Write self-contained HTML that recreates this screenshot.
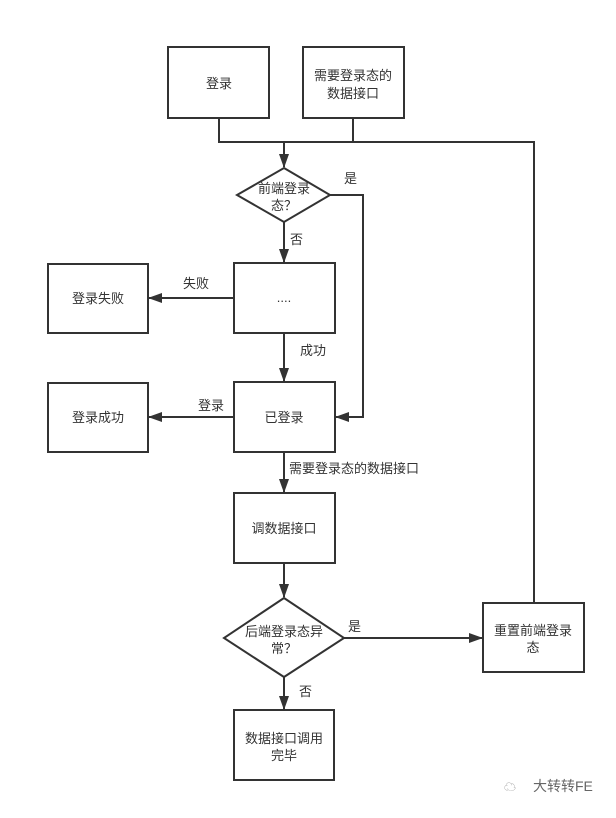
<!DOCTYPE html>
<html><head><meta charset="utf-8"><style>
body{margin:0;background:#fff}
svg text{font-family:"Liberation Sans","Noto Sans CJK SC",sans-serif;font-size:13px;fill:#333}
</style></head><body>
<svg width="616" height="813" viewBox="0 0 616 813" xmlns="http://www.w3.org/2000/svg">
<defs><marker id="a" markerWidth="14" markerHeight="12" refX="13" refY="6" orient="auto" markerUnits="userSpaceOnUse"><path d="M0,1 L14,6 L0,11 Z" fill="#333"/></marker></defs>
<g stroke="#333" stroke-width="2" fill="#fff">
<rect x="168" y="47" width="101" height="71"/>
<rect x="303" y="47" width="101" height="71"/>
<polygon points="284,168 330,195 284,222 237,195"/>
<rect x="234" y="263" width="101" height="70"/>
<rect x="48" y="264" width="100" height="69"/>
<rect x="234" y="382" width="101" height="70"/>
<rect x="48" y="383" width="100" height="69"/>
<rect x="234" y="493" width="101" height="70"/>
<polygon points="284,598 344,638 284,677 224,638"/>
<rect x="483" y="603" width="101" height="69"/>
<rect x="234" y="710" width="100" height="70"/>
</g>
<g stroke="#333" stroke-width="2" fill="none">
<polyline points="219,118 219,142 534,142 534,603"/>
<line x1="353" y1="118" x2="353" y2="142"/>
<line x1="284" y1="142" x2="284" y2="167" marker-end="url(#a)"/>
<polyline points="330,195 363,195 363,417 336,417" marker-end="url(#a)"/>
<line x1="284" y1="222" x2="284" y2="262" marker-end="url(#a)"/>
<line x1="234" y1="298" x2="149" y2="298" marker-end="url(#a)"/>
<line x1="284" y1="333" x2="284" y2="381" marker-end="url(#a)"/>
<line x1="234" y1="417" x2="149" y2="417" marker-end="url(#a)"/>
<line x1="284" y1="452" x2="284" y2="492" marker-end="url(#a)"/>
<line x1="284" y1="563" x2="284" y2="597" marker-end="url(#a)"/>
<line x1="344" y1="638" x2="482" y2="638" marker-end="url(#a)"/>
<line x1="284" y1="677" x2="284" y2="709" marker-end="url(#a)"/>
</g>
<g text-anchor="middle">
<text x="219" y="88">登录</text>
<text x="353" y="80">需要登录态的</text>
<text x="353" y="98">数据接口</text>
<text x="284" y="193">前端登录</text>
<text x="284" y="210">态？</text>
<text x="284" y="302">....</text>
<text x="98" y="303">登录失败</text>
<text x="284" y="422">已登录</text>
<text x="98" y="422">登录成功</text>
<text x="284" y="533">调数据接口</text>
<text x="284" y="636">后端登录态异</text>
<text x="284" y="653">常？</text>
<text x="533" y="635">重置前端登录</text>
<text x="533" y="652">态</text>
<text x="284" y="743">数据接口调用</text>
<text x="284" y="760">完毕</text>
</g>
<text x="344" y="183">是</text>
<text x="290" y="244">否</text>
<text x="183" y="288">失败</text>
<text x="300" y="355">成功</text>
<text x="198" y="410">登录</text>
<text x="289" y="473">需要登录态的数据接口</text>
<text x="348" y="631">是</text>
<text x="299" y="696">否</text>
<text x="504" y="791" style="fill:#999;font-size:12px">☁</text>
<text x="533" y="791" style="fill:#666;font-size:14px">大转转FE</text>
</svg>
</body></html>
